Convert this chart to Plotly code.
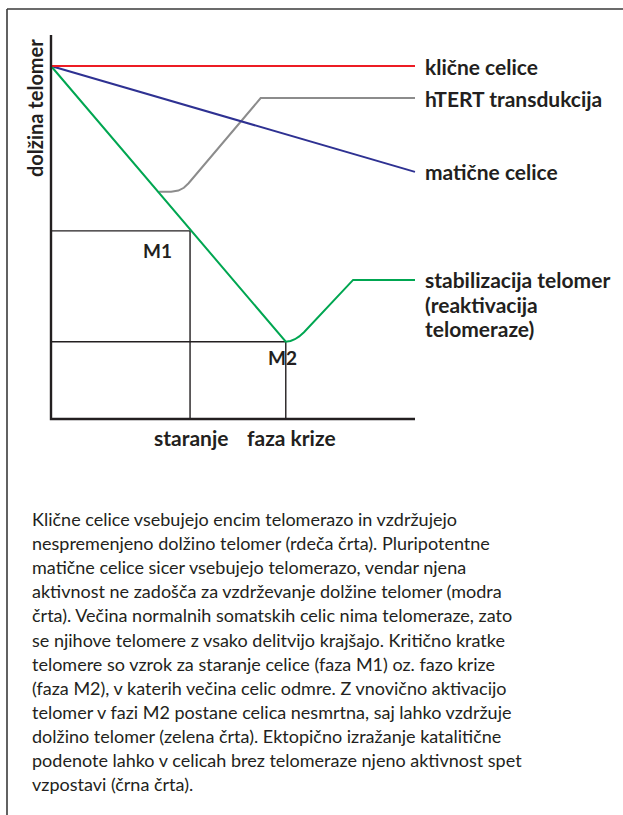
import plotly.graph_objects as go

# ---- data (abstract units: x = time, y = telomere length) ----
red_x = [0, 10]
red_y = [10, 10]

blue_x = [0, 10]
blue_y = [10, 7.0]

green_x = [0, 6.45, 6.58, 6.70, 6.82, 6.95, 8.30, 10]
green_y = [10, 2.19, 2.21, 2.26, 2.34, 2.46, 3.94, 3.94]

gray_x = [2.97, 3.30, 3.50, 3.65, 3.78, 5.76, 10]
gray_y = [6.44, 6.44, 6.47, 6.55, 6.68, 9.09, 9.09]

m1_x, m1_y = 3.82, 5.33
m2_x, m2_y = 6.45, 2.19

yaxis_top = 10.88
xaxis_end = 10.0

series_labels = ["klične celice", "hTERT transdukcija", "matične celice"]
series_label_y = [10.0, 9.09, 7.0]
stab_label = ["stabilizacija telomer", "(reaktivacija", "telomeraze)"]
stab_label_y = [3.94, 3.24, 2.55]

phase_labels = ["M1", "M2"]
xcat_labels = ["staranje", "faza krize"]
ylabel = "dolžina telomer"

caption_lines = [
    "Klične celice vsebujejo encim telomerazo in vzdržujejo",
    "nespremenjeno dolžino telomer (rdeča črta). Pluripotentne",
    "matične celice sicer vsebujejo telomerazo, vendar njena",
    "aktivnost ne zadošča za vzdrževanje dolžine telomer (modra",
    "črta). Večina normalnih somatskih celic nima telomeraze, zato",
    "se njihove telomere z vsako delitvijo krajšajo. Kritično kratke",
    "telomere so vzrok za staranje celice (faza M1) oz. fazo krize",
    "(faza M2), v katerih večina celic odmre. Z vnovično aktivacijo",
    "telomer v fazi M2 postane celica nesmrtna, saj lahko vzdržuje",
    "dolžino telomer (zelena črta). Ektopično izražanje katalitične",
    "podenote lahko v celicah brez telomeraze njeno aktivnost spet",
    "vzpostavi (črna črta).",
]

# ---- styles ----
RED = "#ed1c24"
BLUE = "#2e3192"
GREEN = "#00a651"
GRAY = "#8c8c8c"
INK = "#231f20"
FONT = "Lato"

W, H = 623, 815
# pixel mapping of the data units (axis origin at px (51, 419))
PX_X0, PX_Y0, SX, SY = 51.0, 419.0, 36.4, 35.3
xr = [(0 - PX_X0) / SX, (W - PX_X0) / SX]
yr = [(PX_Y0 - H) / SY, (PX_Y0 - 0) / SY]
def py2y(p):
    return (PX_Y0 - p) / SY

fig = go.Figure()

# box lines M1 / M2
box_w = 1.4
fig.add_trace(go.Scatter(x=[0, m1_x, m1_x], y=[m1_y, m1_y, 0], mode="lines",
                         line=dict(color=INK, width=box_w), hoverinfo="skip"))
fig.add_trace(go.Scatter(x=[0, m2_x, m2_x], y=[m2_y, m2_y, 0], mode="lines",
                         line=dict(color=INK, width=box_w), hoverinfo="skip"))

fig.add_trace(go.Scatter(x=gray_x, y=gray_y, mode="lines",
                         line=dict(color=GRAY, width=2), hoverinfo="skip"))
fig.add_trace(go.Scatter(x=blue_x, y=blue_y, mode="lines",
                         line=dict(color=BLUE, width=2), hoverinfo="skip"))
fig.add_trace(go.Scatter(x=green_x, y=green_y, mode="lines",
                         line=dict(color=GREEN, width=2), hoverinfo="skip"))
fig.add_trace(go.Scatter(x=red_x, y=red_y, mode="lines",
                         line=dict(color=RED, width=2), hoverinfo="skip"))

# axes
fig.add_trace(go.Scatter(x=[0, 0, xaxis_end], y=[yaxis_top, 0, 0], mode="lines",
                         line=dict(color=INK, width=2.4), hoverinfo="skip"))

LAB = 21
ann = []
lab_x = 10.22
for t, yy in zip(series_labels, series_label_y):
    ann.append(dict(x=lab_x, y=yy, text="<b>%s</b>" % t, xanchor="left", yanchor="middle",
                    showarrow=False, font=dict(family=FONT, size=LAB, color=INK)))
for t, yy in zip(stab_label, stab_label_y):
    ann.append(dict(x=lab_x, y=yy, text="<b>%s</b>" % t, xanchor="left", yanchor="middle",
                    showarrow=False, font=dict(family=FONT, size=LAB, color=INK)))

ann.append(dict(x=m1_x - 0.9, y=m1_y - 0.57, text="<b>%s</b>" % phase_labels[0],
                xanchor="center", yanchor="middle", showarrow=False,
                font=dict(family=FONT, size=19, color=INK)))
ann.append(dict(x=m2_x - 0.08, y=m2_y - 0.45, text="<b>%s</b>" % phase_labels[1],
                xanchor="center", yanchor="middle", showarrow=False,
                font=dict(family=FONT, size=19, color=INK)))

ann.append(dict(x=m1_x + 0.02, y=-0.51, text="<b>%s</b>" % xcat_labels[0],
                xanchor="center", yanchor="middle", showarrow=False,
                font=dict(family=FONT, size=LAB, color=INK)))
ann.append(dict(x=m2_x + 0.17, y=-0.51, text="<b>%s</b>" % xcat_labels[1],
                xanchor="center", yanchor="middle", showarrow=False,
                font=dict(family=FONT, size=LAB, color=INK)))

ann.append(dict(x=(35 - PX_X0) / SX, y=py2y(108), text="<b>%s</b>" % ylabel,
                textangle=-90, xanchor="center", yanchor="middle", showarrow=False,
                font=dict(family=FONT, size=20, color=INK)))

for i, line in enumerate(caption_lines):
    ann.append(dict(x=(30 - PX_X0) / SX, y=py2y(519 + i * 24.1), text=line,
                    xanchor="left", yanchor="middle", showarrow=False,
                    font=dict(family=FONT, size=18, color=INK)))

shapes = [
    dict(type="line", xref="paper", yref="paper", x0=7 / W, x1=1.0,
         y0=1 - 9 / H, y1=1 - 9 / H, line=dict(color="#3a3a3a", width=1.6)),
    dict(type="line", xref="paper", yref="paper", x0=7 / W, x1=7 / W,
         y0=1 - 9 / H, y1=0, line=dict(color="#3a3a3a", width=1.6)),
]

fig.update_layout(
    width=W, height=H,
    margin=dict(l=0, r=0, t=0, b=0),
    paper_bgcolor="white", plot_bgcolor="white",
    showlegend=False,
    xaxis=dict(range=xr, visible=False, fixedrange=True),
    yaxis=dict(range=yr, visible=False, fixedrange=True),
    annotations=ann, shapes=shapes,
)

fig.write_html(
    "out.html",
    config={"displayModeBar": False},
    post_script="document.body.style.margin='0';document.body.style.overflow='hidden';",
)
